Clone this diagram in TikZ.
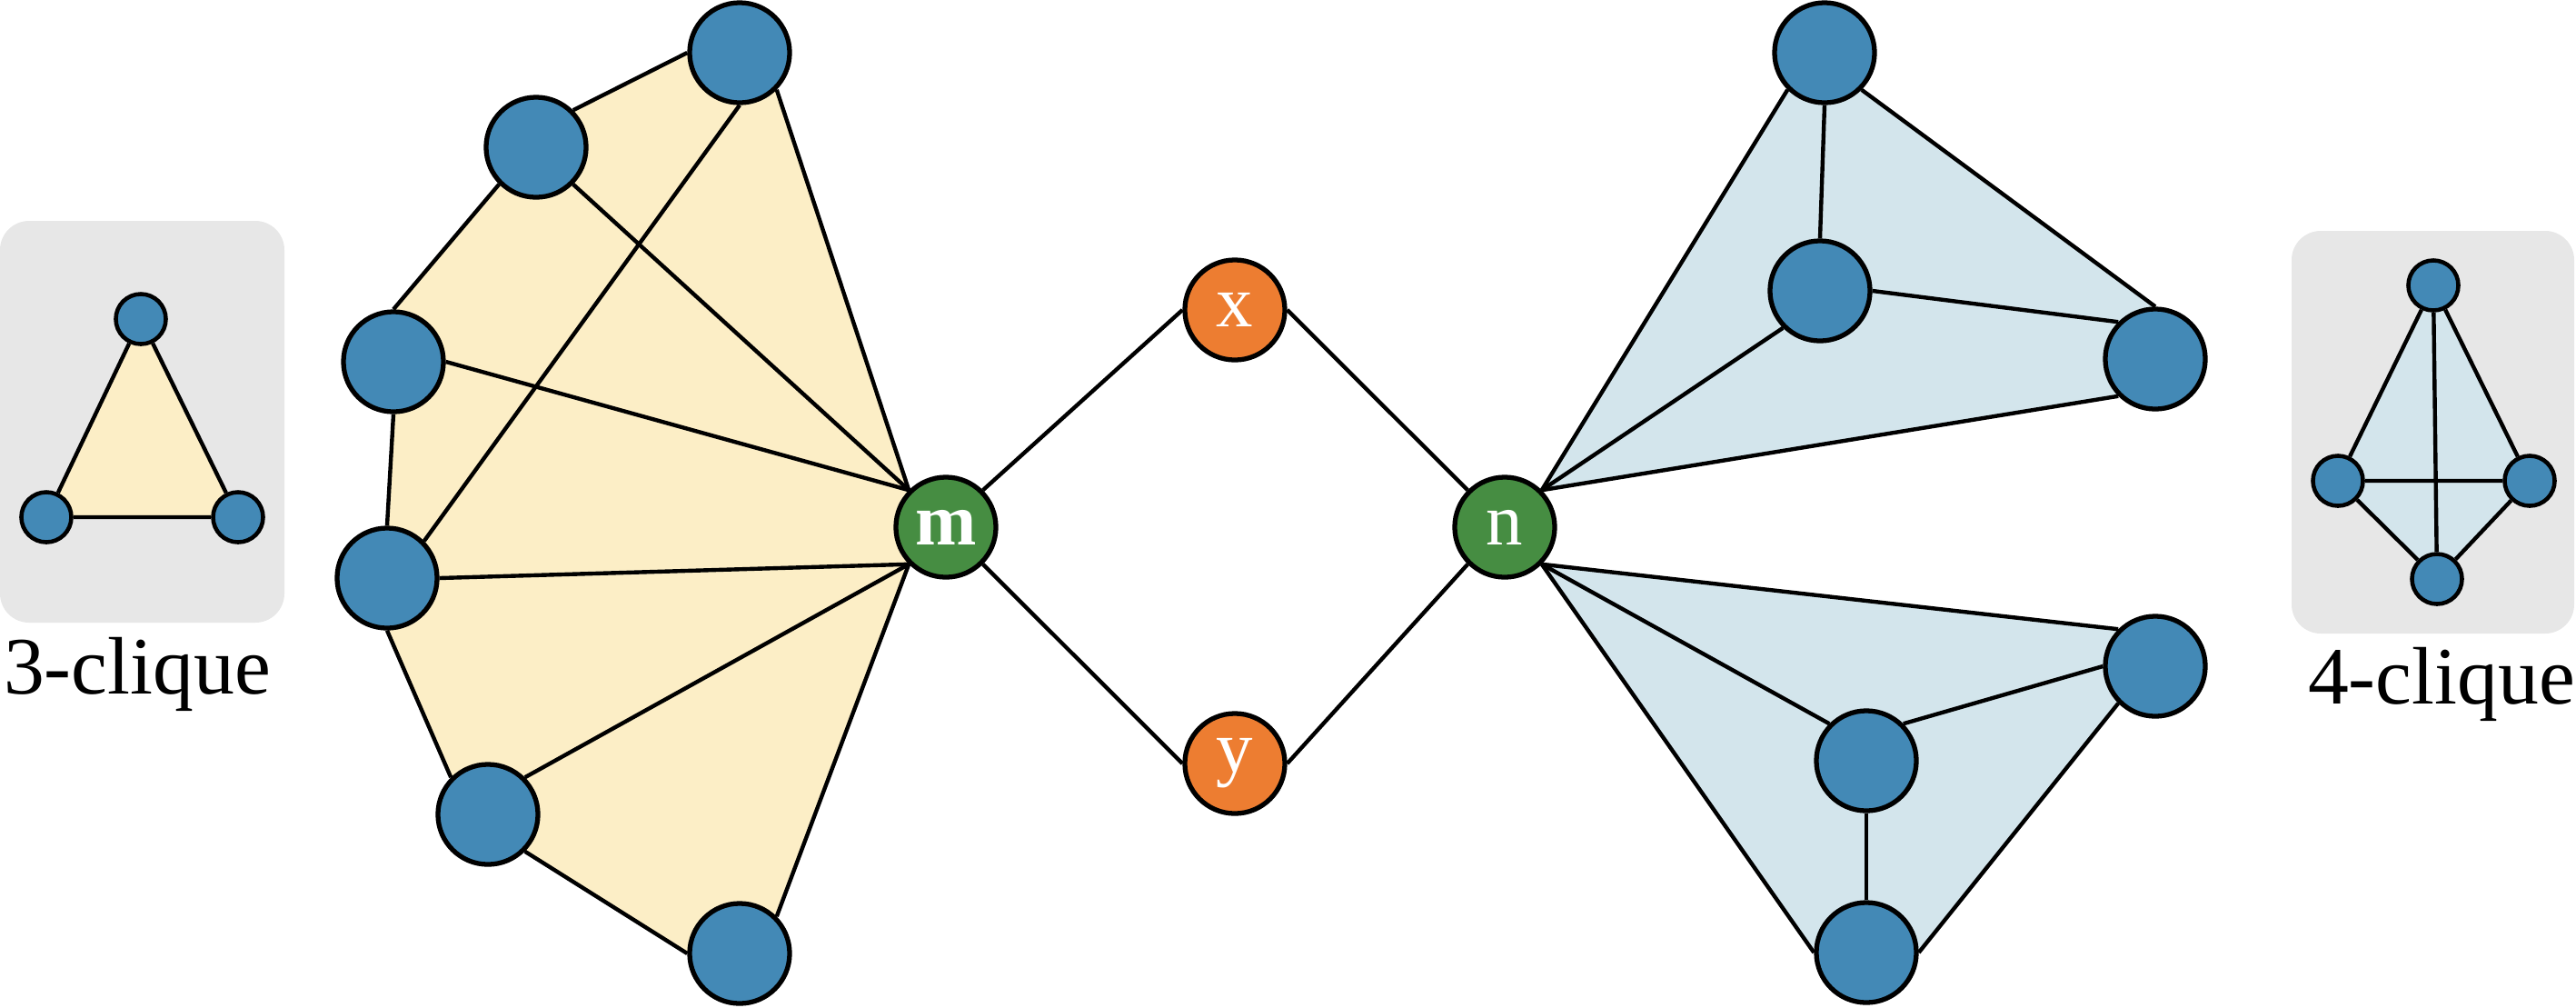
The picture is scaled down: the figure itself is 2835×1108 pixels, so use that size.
\documentclass[tikz,border=0pt]{standalone}
\usepackage{fontspec}
\setmainfont{Liberation Serif}
\usetikzlibrary{backgrounds}

\definecolor{vertblue}{HTML}{4389B6}
\definecolor{hubgreen}{HTML}{468D42}
\definecolor{midorange}{HTML}{ED7D31}
\definecolor{fanyellow}{HTML}{FCEEC6}
\definecolor{fanblue}{HTML}{D3E5EC}
\definecolor{panelgray}{HTML}{E7E7E7}

\begin{document}
\begin{tikzpicture}[x=0.01cm,y=-0.01cm,
  vert/.style={circle,draw,line width=1.5pt,fill=vertblue,minimum size=1.1cm,inner sep=0pt},
  hub/.style={vert,fill=hubgreen,text=white,font=\fontsize{23}{23}\selectfont},
  mid/.style={vert,fill=midorange,text=white,font=\fontsize{23}{23}\selectfont},
  dot/.style={vert,minimum size=0.55cm,line width=1.3pt},
  edge/.style={line width=1.25pt},
  panel/.style={fill=panelgray,rounded corners=0.32cm},
  cliquelabel/.style={font=\fontsize{25.5}{25.5}\selectfont}
]
\useasboundingbox (0,0) rectangle (2835,1108);

% centre nodes
\node[hub] (m) at (1041,580) {\bfseries m};
\node[hub] (n) at (1656,580) {n};
\node[mid] (x) at (1359,341) {x};
\node[mid] (y) at (1359,840) {y};

% left fan
\node[vert] (a1) at (814,58) {};
\node[vert] (a2) at (590,162) {};
\node[vert] (a3) at (433,398) {};
\node[vert] (a4) at (426,636) {};
\node[vert] (a5) at (537,896) {};
\node[vert] (a6) at (814,1049) {};

% right cliques
\node[vert] (b1) at (2008,58) {};
\node[vert] (b2) at (2003,320) {};
\node[vert] (b3) at (2372,395) {};
\node[vert] (b4) at (2372,733) {};
\node[vert] (b5) at (2054,837) {};
\node[vert] (b6) at (2054,1048) {};

% insets
\node[dot] (t1) at (155,351) {};
\node[dot] (t2) at (51,569) {};
\node[dot] (t3) at (262,569) {};
\node[cliquelabel] (lab3) at (151,742) {3-clique};

\node[dot] (q1) at (2678,314) {};
\node[dot] (q2) at (2573,529) {};
\node[dot] (q3) at (2784,529) {};
\node[dot] (q4) at (2682,637) {};
\node[cliquelabel] (lab4) at (2687,753) {4-clique};

\begin{scope}[on background layer]
  \fill[panel] (0,243) rectangle (313,685);
  \fill[panel] (2522,254) rectangle (2833,697);
  \fill[fanyellow] (t1.center) -- (t2.center) -- (t3.center) -- cycle;
  \fill[fanblue] (q1.center) -- (q3.center) -- (q4.center) -- (q2.center) -- cycle;
  \fill[fanyellow] (m.135) -- (a1.-45) -- (a1.center) -- (a1.west) -- (a2.45)
    -- (a2.center) -- (a2.225) -- (a3.north) -- (a3.center) -- (a3.south)
    -- (a4.north) -- (a4.center) -- (a4.south) -- (a5.135) -- (a5.center)
    -- (a5.-45) -- (a6.west) -- (a6.center) -- (a6.45) -- (m.225) -- (m.center) -- cycle;
  \fill[fanblue] (n.45) -- (b1.225) -- (b1.center) -- (b1.-45) -- (b3.north)
    -- (b3.center) -- (b3.225) -- cycle;
  \fill[fanblue] (n.-45) -- (b4.135) -- (b4.center) -- (b4.225) -- (b6.east)
    -- (b6.center) -- (b6.west) -- cycle;

  % left fan edges
  \draw[edge] (a1.west) -- (a2.45);
  \draw[edge] (a2.225) -- (a3.north);
  \draw[edge] (a3.south) -- (a4.north);
  \draw[edge] (a4.south) -- (a5.135);
  \draw[edge] (a5.-45) -- (a6.west);
  \draw[edge] (a1.south) -- (a4.45);
  \draw[edge] (m.135) -- (a1.-45);
  \draw[edge] (m.135) -- (a2.-45);
  \draw[edge] (m.135) -- (a3.east);
  \draw[edge] (m.225) -- (a4.east);
  \draw[edge] (m.225) -- (a5.45);
  \draw[edge] (m.225) -- (a6.45);

  % middle
  \draw[edge] (m.45) -- (x.west);
  \draw[edge] (x.east) -- (n.135);
  \draw[edge] (m.-45) -- (y.west);
  \draw[edge] (y.east) -- (n.225);

  % right cliques edges
  \draw[edge] (n.45) -- (b1.225);
  \draw[edge] (n.45) -- (b2.225);
  \draw[edge] (n.45) -- (b3.225);
  \draw[edge] (b1.south) -- (b2.north);
  \draw[edge] (b1.-45) -- (b3.north);
  \draw[edge] (b2.east) -- (b3.135);
  \draw[edge] (n.-45) -- (b4.135);
  \draw[edge] (n.-45) -- (b5.135);
  \draw[edge] (n.-45) -- (b6.west);
  \draw[edge] (b5.45) -- (b4.west);
  \draw[edge] (b5.south) -- (b6.north);
  \draw[edge] (b6.east) -- (b4.225);

  % insets edges
  \draw[edge] (t1) -- (t2) -- (t3) -- (t1);
  \draw[edge] (q1) -- (q2) -- (q3) -- (q1) -- (q4) -- (q2);
  \draw[edge] (q3) -- (q4);
\end{scope}
\end{tikzpicture}
\end{document}
